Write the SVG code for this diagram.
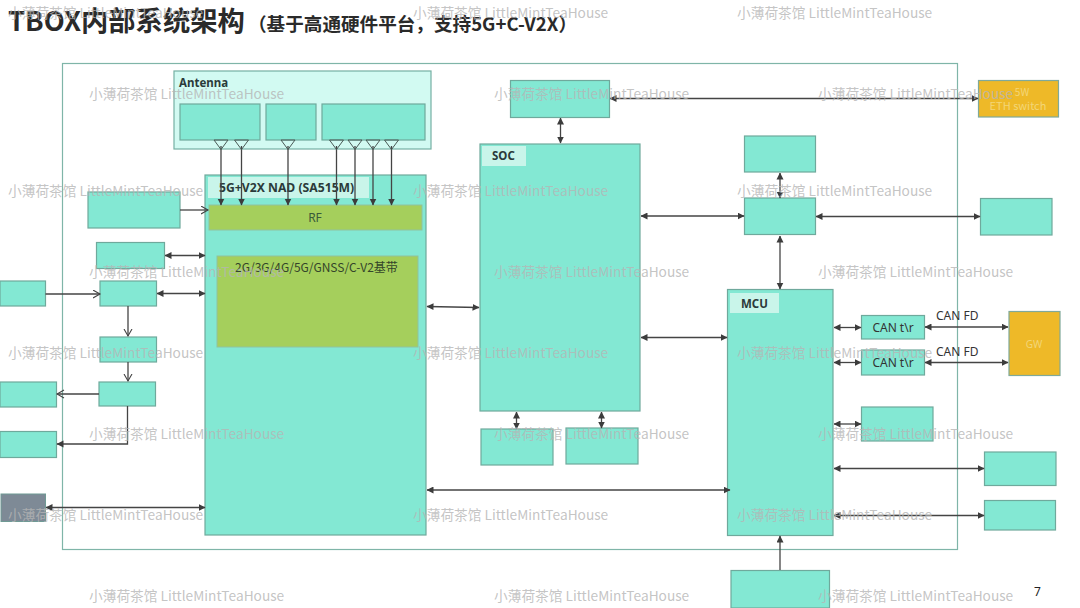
<svg xmlns="http://www.w3.org/2000/svg" width="1080" height="608" viewBox="0 0 1080 608">
<style>
.n{fill:#83e8d3;stroke:#6fa99c;stroke-width:1.2}
.y{fill:#eeb928;stroke:#7fa99a;stroke-width:1.2}
.c{fill:none;stroke:#444;stroke-width:1.3}
.f{marker-end:url(#a);marker-start:url(#b)}
.e{marker-end:url(#a)}
.o{marker-end:url(#o)}
.s{fill:none;stroke:#4a5a56;stroke-width:1}
text{font-family:"Noto Sans","Noto Sans CJK SC",sans-serif}
.cj{font-family:"Noto Sans CJK SC","Noto Sans",sans-serif}
.w{font-family:"Noto Sans CJK SC","Noto Sans",sans-serif;font-size:13.7px;fill:#b5b5b5;fill-opacity:.8}
.l{font-size:12px;fill:#333}
.h{font-size:11.5px;font-weight:700;fill:#2b3a3a}
.p{fill:#c9f5ea}
</style>
<defs>
<marker id="a" markerWidth="8" markerHeight="8" refX="6.5" refY="3.5" orient="auto" markerUnits="userSpaceOnUse"><path d="M0 0L7 3.5L0 7z" fill="#3c3c3c"/></marker>
<marker id="b" markerWidth="8" markerHeight="8" refX="0.5" refY="3.5" orient="auto" markerUnits="userSpaceOnUse"><path d="M7 0L0 3.5L7 7z" fill="#3c3c3c"/></marker>
<marker id="o" markerWidth="9" markerHeight="10" refX="7.5" refY="4.5" orient="auto" markerUnits="userSpaceOnUse"><path d="M0.5 0.5L7.5 4.5L0.5 8.5" fill="none" stroke="#444" stroke-width="1.1"/></marker>
</defs>
<rect width="1080" height="608" fill="#fff"/>
<text class="cj" x="8" y="31" font-size="27.3" font-weight="700" fill="#2a2a2a">TBOX内部系统架构</text>
<text class="cj" x="248" y="31" font-size="18.6" font-weight="700" fill="#2a2a2a">（基于高通硬件平台，支持5G+C-V2X）</text>
<rect id="frame" x="62.500" y="63.500" width="895" height="486" fill="#fff" stroke="#7fb5a8" stroke-width="1.2"/>

<g id="antenna"><rect x="174" y="71" width="257" height="78" fill="#d2faf2" stroke="#75b0a3" stroke-width="1.2"/><text class="h" x="179" y="87">Antenna</text></g>
<g id="ant1"><rect class="n" x="180" y="104" width="80" height="36"/></g>
<g id="ant2"><rect class="n" x="266" y="104" width="50" height="36"/></g>
<g id="ant3"><rect class="n" x="322" y="104" width="103" height="36"/></g>
<g id="nad"><rect class="n" x="205" y="175" width="221" height="360"/><rect class="p" x="208" y="177" width="161" height="21"/><text class="h" x="219" y="192" style="font-size:12.2px">5G+V2X NAD (SA515M)</text></g>
<g id="rf"><rect x="209" y="205" width="213" height="25" fill="#a5cf5c" stroke="#8fc2a0"/><text class="l" x="315" y="222" text-anchor="middle" font-size="11" style="fill:#3a5a3a">RF</text></g>
<g id="baseband"><rect x="217" y="256" width="201" height="91" fill="#a5cf5c" stroke="#8fc2a0"/><text class="cj" x="235" y="272" font-size="12" fill="#34452a">2G/3G/4G/5G/GNSS/C-V2基带</text></g>
<g id="top"><rect class="n" x="510.500" y="80.500" width="99" height="37"/></g>
<g id="soc"><rect class="n" x="480" y="144" width="160" height="267"/><rect class="p" x="482" y="146" width="44" height="20"/><text class="h" x="492" y="160">SOC</text></g>
<g id="soc-b1"><rect class="n" x="481" y="429" width="72" height="36"/></g>
<g id="soc-b2"><rect class="n" x="566" y="428" width="72" height="36"/></g>
<g id="r1"><rect class="n" x="744.500" y="136" width="71" height="36"/></g>
<g id="r2"><rect class="n" x="744.500" y="198" width="71" height="36.500"/></g>
<g id="r3"><rect class="n" x="980.500" y="198.500" width="71.500" height="36.500"/></g>
<g id="eth"><rect class="y" x="978.500" y="80.500" width="80" height="36.500"/><text class="cj" x="1022" y="96" font-size="10" fill="#f3d677" text-anchor="middle">5W</text><text class="cj" x="1018" y="110" font-size="11" fill="#f3d677" text-anchor="middle">ETH switch</text></g>
<g id="mcu"><rect class="n" x="727.500" y="289.500" width="105.500" height="246"/><rect class="p" x="730" y="293" width="49" height="20"/><text class="h" x="741" y="308">MCU</text></g>
<g id="can1"><rect class="n" x="861.500" y="315.500" width="63" height="23.500"/><text class="l" x="893" y="332" text-anchor="middle">CAN t\r</text></g>
<g id="can2"><rect class="n" x="861.500" y="350" width="63" height="25"/><text class="l" x="893" y="367" text-anchor="middle">CAN t\r</text></g>
<g id="gw"><rect class="y" x="1009" y="311.500" width="51" height="64"/><text x="1034" y="348" font-size="10" fill="#f3d677" text-anchor="middle">GW</text></g>
<g id="m1"><rect class="n" x="861.500" y="407" width="71.500" height="34"/></g>
<g id="m2"><rect class="n" x="984.500" y="452" width="71.500" height="33.500"/></g>
<g id="m3"><rect class="n" x="984.500" y="500.500" width="71" height="29.500"/></g>
<g id="bottom"><rect class="n" x="731" y="570.500" width="98.500" height="37.500"/></g>
<g id="l0"><rect class="n" x="88" y="192" width="92" height="36"/></g>
<g id="l1"><rect class="n" x="96.500" y="242.500" width="68" height="26"/></g>
<g id="l2"><rect class="n" x="0" y="281" width="45.500" height="25"/></g>
<g id="l3"><rect class="n" x="100" y="281" width="56.500" height="25"/></g>
<g id="l4"><rect class="n" x="100" y="337" width="56.500" height="25"/></g>
<g id="l5"><rect class="n" x="99" y="382" width="56.500" height="24"/></g>
<g id="l6"><rect class="n" x="0" y="382" width="56.500" height="25"/></g>
<g id="l7"><rect class="n" x="0" y="431.500" width="56.500" height="26"/></g>
<g id="gray"><rect x="1" y="494" width="44.500" height="27.500" fill="#7e8a96" stroke="#6f9a94"/></g>

<g id="connectors">
<path class="c f" d="M610 98.500H978"/>
<path class="c f" d="M560.500 118V143"/>
<path class="c f" d="M641 216H744"/>
<path class="c f" d="M641 337.500H727"/>
<path class="c f" d="M427 306.500L479 307.500"/>
<path class="c f" d="M427 490H730"/>
<path class="c f" d="M516.500 412V429"/>
<path class="c f" d="M601.500 412V428"/>
<path class="c f" d="M780 173V198"/>
<path class="c f" d="M780 236V289"/>
<path class="c f" d="M816 216.500H980"/>
<path class="c f" d="M834 327.500H861"/>
<path class="c f" d="M834 362.500H861"/>
<path class="c f" d="M925 327H1008"/>
<path class="c f" d="M925 362.500H1008"/>
<path class="c f" d="M834 424H861"/>
<path class="c f" d="M834 468.500H984"/>
<path class="c f" d="M834 515.500H984"/>
<path class="c e" d="M780 570V536"/>
<path class="c f" d="M165 255.500H205"/>
<path class="c f" d="M157 293.500H205"/>
<path class="c f" d="M46 507.500H205"/>
<path class="c o" d="M180 210H208"/>
<path class="c o" d="M45.500 294H100"/>
<path class="c o" d="M128 306V336"/>
<path class="c o" d="M128 362V381"/>
<path class="c o" d="M99 394H57"/>
<path class="c e" d="M127.500 406V444H57"/>
<path class="c e" d="M221 146V205"/>
<path class="c e" d="M241.500 146V205"/>
<path class="c e" d="M288 146V205"/>
<path class="c e" d="M336.500 146V205"/>
<path class="c e" d="M355 146V205"/>
<path class="c e" d="M373 146V205"/>
<path class="c e" d="M391.500 146V205"/>
<path class="s" d="M214 140H228L221 149.500ZM234.500 140H248.500L241.500 149.500ZM281 140H295L288 149.500ZM329.500 140H343.500L336.500 149.500ZM348 140H362L355 149.500ZM366 140H380L373 149.500ZM384.500 140H398.500L391.500 149.500Z"/>
</g>

<text class="l" x="936" y="320">CAN FD</text>
<text class="l" x="936" y="356">CAN FD</text>
<text x="1034" y="596" font-size="12" fill="#222">7</text>

<g id="watermarks">
<text class="w" x="8" y="18">小薄荷茶馆 LittleMintTeaHouse</text>
<text class="w" x="413" y="18">小薄荷茶馆 LittleMintTeaHouse</text>
<text class="w" x="737" y="18">小薄荷茶馆 LittleMintTeaHouse</text>
<text class="w" x="89" y="99">小薄荷茶馆 LittleMintTeaHouse</text>
<text class="w" x="494" y="99">小薄荷茶馆 LittleMintTeaHouse</text>
<text class="w" x="818" y="99">小薄荷茶馆 LittleMintTeaHouse</text>
<text class="w" x="8" y="196">小薄荷茶馆 LittleMintTeaHouse</text>
<text class="w" x="413" y="196">小薄荷茶馆 LittleMintTeaHouse</text>
<text class="w" x="737" y="196">小薄荷茶馆 LittleMintTeaHouse</text>
<text class="w" x="89" y="277">小薄荷茶馆 LittleMintTeaHouse</text>
<text class="w" x="494" y="277">小薄荷茶馆 LittleMintTeaHouse</text>
<text class="w" x="818" y="277">小薄荷茶馆 LittleMintTeaHouse</text>
<text class="w" x="8" y="358">小薄荷茶馆 LittleMintTeaHouse</text>
<text class="w" x="413" y="358">小薄荷茶馆 LittleMintTeaHouse</text>
<text class="w" x="737" y="358">小薄荷茶馆 LittleMintTeaHouse</text>
<text class="w" x="89" y="439">小薄荷茶馆 LittleMintTeaHouse</text>
<text class="w" x="494" y="439">小薄荷茶馆 LittleMintTeaHouse</text>
<text class="w" x="818" y="439">小薄荷茶馆 LittleMintTeaHouse</text>
<text class="w" x="8" y="520">小薄荷茶馆 LittleMintTeaHouse</text>
<text class="w" x="413" y="520">小薄荷茶馆 LittleMintTeaHouse</text>
<text class="w" x="737" y="520">小薄荷茶馆 LittleMintTeaHouse</text>
<text class="w" x="89" y="601">小薄荷茶馆 LittleMintTeaHouse</text>
<text class="w" x="494" y="601">小薄荷茶馆 LittleMintTeaHouse</text>
<text class="w" x="818" y="601">小薄荷茶馆 LittleMintTeaHouse</text>
</g>
</svg>
